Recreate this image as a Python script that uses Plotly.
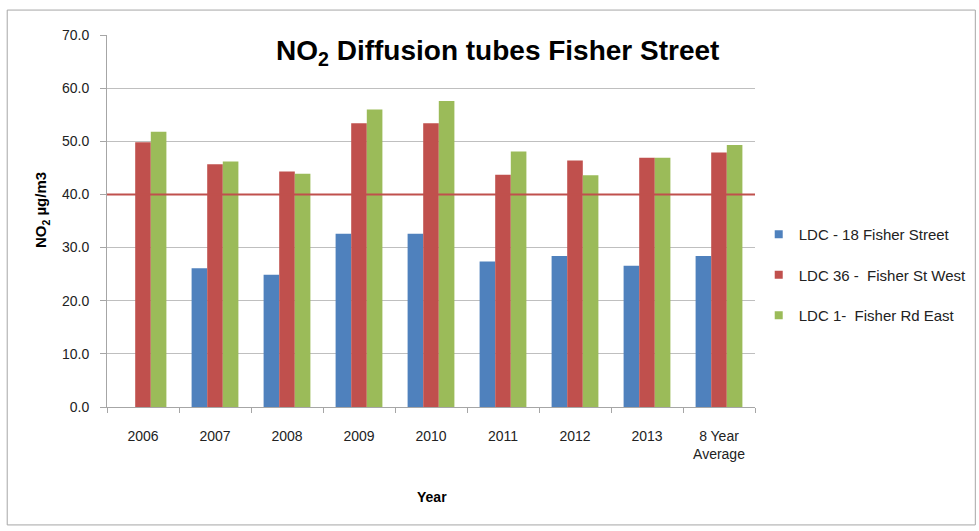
import plotly.graph_objects as go

categories = ["2006", "2007", "2008", "2009", "2010", "2011", "2012", "2013", "8 Year<br>Average"]
ldc18 = [None, 26.1, 24.9, 32.6, 32.6, 27.4, 28.4, 26.6, 28.4]
ldc36 = [49.8, 45.7, 44.3, 53.4, 53.4, 43.7, 46.4, 46.9, 47.9]
ldc1 = [51.8, 46.2, 43.9, 56.0, 57.6, 48.1, 43.6, 46.9, 49.3]
series_names = ["LDC - 18 Fisher Street", "LDC 36 -  Fisher St West", "LDC 1-  Fisher Rd East"]
limit_value = 40.0
y_ticks = [0, 10, 20, 30, 40, 50, 60, 70]

colors = ["#4F81BD", "#C0504D", "#9BBB59"]
FONT = "Liberation Sans, Arial, sans-serif"

fig = go.Figure()
for i, (name, vals) in enumerate(zip(series_names, [ldc18, ldc36, ldc1])):
    fig.add_trace(go.Bar(x=categories, y=vals, name=name, marker_color=colors[i],
                         marker_line_width=0, showlegend=False))
# legend entries with small square symbols
for i, name in enumerate(series_names):
    fig.add_trace(go.Scatter(x=[None], y=[None], mode="markers", name=name,
                             marker=dict(symbol="square", size=8, color=colors[i]),
                             legendgroup=f"g{i}", showlegend=True))

fig.add_shape(type="line", xref="paper", yref="y", x0=0, x1=1, y0=limit_value, y1=limit_value,
              line=dict(color="#C0504D", width=2))

# outer border
fig.add_shape(type="rect", xref="paper", yref="paper", x0=-0.154, x1=1.34, y0=-0.317, y1=1.067,
              line=dict(color="#A6A6A6", width=1), layer="below")

fig.add_annotation(text="<b>NO<sub>2</sub> Diffusion tubes Fisher Street</b>", xref="paper", yref="paper",
                   x=0.603, y=0.952, xanchor="center", yanchor="middle", showarrow=False,
                   font=dict(family=FONT, size=28, color="#000000"))
fig.add_annotation(text="<b>NO<sub>2</sub> µg/m3</b>", xref="paper", yref="paper", x=-0.100, y=0.53,
                   xanchor="center", yanchor="middle", textangle=-90, showarrow=False,
                   font=dict(family=FONT, size=15, color="#000000"))
fig.add_annotation(text="<b>Year</b>", xref="paper", yref="paper", x=0.5015, y=-0.242,
                   xanchor="center", yanchor="middle", showarrow=False,
                   font=dict(family=FONT, size=14, color="#000000"))

fig.update_layout(
    width=979, height=531,
    margin=dict(l=107, r=224, t=35, b=124, autoexpand=False),
    paper_bgcolor="white", plot_bgcolor="white",
    barmode="group", bargap=0.35, bargroupgap=0,
    font=dict(family=FONT, size=14, color="#222222"),
    legend=dict(xref="container", yref="container", x=0.775, y=0.5895, xanchor="left", yanchor="top",
                tracegroupgap=18, font=dict(family=FONT, size=15, color="#222222"),
                bgcolor="rgba(0,0,0,0)"),
    showlegend=True,
)
fig.update_xaxes(type="category", showline=True, linecolor="#A6A6A6", ticks="outside",
                 tickson="boundaries", ticklen=5, tickcolor="#A6A6A6", showgrid=False,
                 tickfont=dict(size=14), ticklabelstandoff=16)
fig.update_yaxes(range=[0, 70], tickvals=y_ticks, tickformat=".1f", showline=True, linecolor="#A6A6A6",
                 ticks="outside", ticklen=6, tickcolor="#A6A6A6", gridcolor="#BFBFBF", gridwidth=1,
                 tickfont=dict(size=14), zeroline=False, ticklabelstandoff=8)

fig.write_html("out.html", config={"displayModeBar": False},
               post_script="document.body.style.margin='0';")
